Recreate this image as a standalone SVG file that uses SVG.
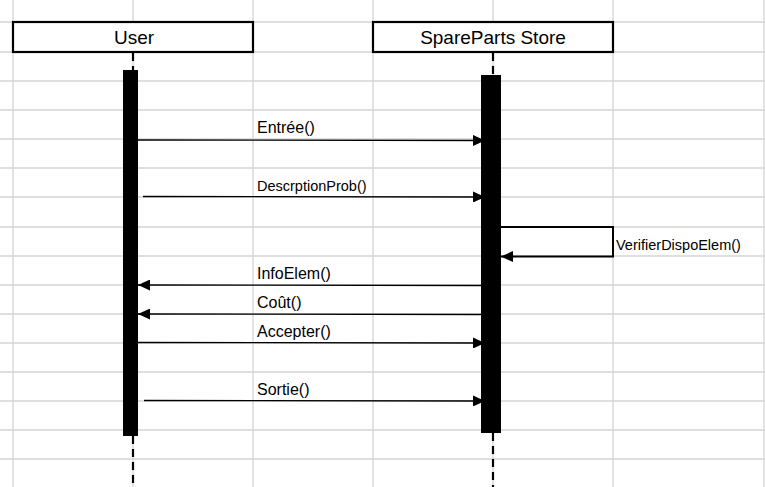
<svg xmlns="http://www.w3.org/2000/svg" width="765" height="487" viewBox="0 0 765 487">
<style>
.grid line{stroke:#d4d4d4;stroke-width:1.3}
.head{fill:#fff;stroke:#000;stroke-width:2.2}
.htxt{font-family:"Liberation Sans",Arial,sans-serif;font-size:19px;fill:#000;text-anchor:middle}
.life{stroke:#000;stroke-width:2.2;stroke-dasharray:8 5}
.bar{fill:#000}
.msg{stroke:#000;stroke-width:1.3;fill:none}
.self{stroke:#000;stroke-width:2;fill:none}
.lbl{font-family:"Liberation Sans",Arial,sans-serif;font-size:16px;fill:#000}
.lbls{font-family:"Liberation Sans",Arial,sans-serif;font-size:14.5px;fill:#000}
</style>
<defs>
<marker id="ah" markerUnits="userSpaceOnUse" markerWidth="12" markerHeight="11" viewBox="0 0 12 11" refX="12" refY="5.5" orient="auto">
<path d="M0,0 L12,5.5 L0,11 Z" fill="#000"/>
</marker>
</defs>
<rect width="765" height="487" fill="#fff"/>
<g class="grid">
<line x1="13" y1="0" x2="13" y2="487"/>
<line x1="133" y1="0" x2="133" y2="487"/>
<line x1="253" y1="0" x2="253" y2="487"/>
<line x1="373" y1="0" x2="373" y2="487"/>
<line x1="493" y1="0" x2="493" y2="487"/>
<line x1="613" y1="0" x2="613" y2="487"/>
<line x1="764" y1="0" x2="764" y2="487"/>
<line x1="0" y1="22" x2="765" y2="22"/>
<line x1="0" y1="52" x2="765" y2="52"/>
<line x1="0" y1="81" x2="765" y2="81"/>
<line x1="0" y1="110" x2="765" y2="110"/>
<line x1="0" y1="139" x2="765" y2="139"/>
<line x1="0" y1="168" x2="765" y2="168"/>
<line x1="0" y1="197" x2="765" y2="197"/>
<line x1="0" y1="227" x2="765" y2="227"/>
<line x1="0" y1="256" x2="765" y2="256"/>
<line x1="0" y1="285" x2="765" y2="285"/>
<line x1="0" y1="314" x2="765" y2="314"/>
<line x1="0" y1="343" x2="765" y2="343"/>
<line x1="0" y1="372" x2="765" y2="372"/>
<line x1="0" y1="401" x2="765" y2="401"/>
<line x1="0" y1="430" x2="765" y2="430"/>
<line x1="0" y1="459" x2="765" y2="459"/>
</g>
<g id="user">
<rect class="head" x="13" y="22" width="240" height="30"/>
<text class="htxt" x="134" y="44">User</text>
<line class="life" x1="133" y1="53" x2="133" y2="70"/>
<line class="life" x1="133" y1="436" x2="133" y2="487"/>
<rect class="bar" x="123" y="70" width="15" height="366"/>
</g>
<g id="store">
<rect class="head" x="373" y="22" width="240" height="30"/>
<text class="htxt" x="493" y="44">SpareParts Store</text>
<line class="life" x1="493" y1="53" x2="493" y2="75"/>
<line class="life" x1="493" y1="433" x2="493" y2="487"/>
<rect class="bar" x="481" y="75" width="20" height="358"/>
</g>
<g id="connectors">
<line class="msg" x1="138" y1="140" x2="485" y2="140.5" marker-end="url(#ah)"/>
<text class="lbl" x="257" y="133">Entrée()</text>
<line class="msg" x1="143" y1="196.5" x2="485" y2="197" marker-end="url(#ah)"/>
<text class="lbls" x="257" y="191">DescrptionProb()</text>
<polyline class="self" points="501,227 613,227 613,256.5 501,256.5" marker-end="url(#ah)"/>
<text class="lbls" x="616" y="250">VerifierDispoElem()</text>
<line class="msg" x1="481" y1="285.5" x2="138" y2="285" marker-end="url(#ah)"/>
<text class="lbl" x="257" y="279">InfoElem()</text>
<line class="msg" x1="481" y1="314.5" x2="138" y2="314" marker-end="url(#ah)"/>
<text class="lbl" x="257" y="308">Coût()</text>
<line class="msg" x1="138" y1="342.5" x2="485" y2="343" marker-end="url(#ah)"/>
<text class="lbl" x="257" y="337">Accepter()</text>
<line class="msg" x1="144" y1="400.5" x2="485" y2="401" marker-end="url(#ah)"/>
<text class="lbl" x="257" y="395">Sortie()</text>
</g>
</svg>
